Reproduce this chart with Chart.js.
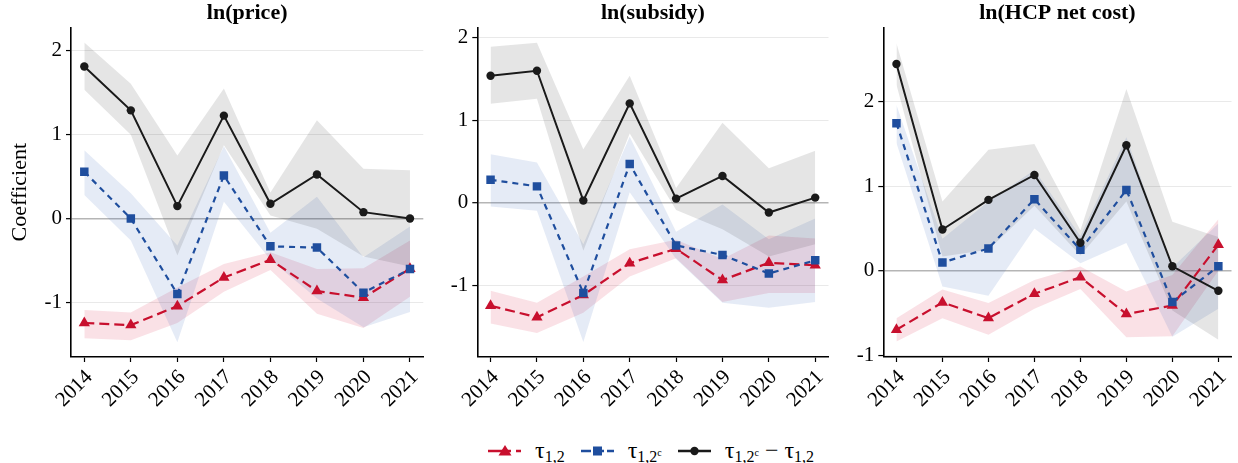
<!DOCTYPE html>
<html>
<head>
<meta charset="utf-8">
<script src="https://cdn.jsdelivr.net/npm/chart.js@4.4.1/dist/chart.umd.min.js"></script>
<style>
  html, body { margin:0; padding:0; background:#fff; }
  body { width:1238px; height:463px; position:relative; overflow:hidden; font-family:'Liberation Serif','Times New Roman',serif; }
  canvas { position:absolute; top:0; }
  #legend { position:absolute; left:488px; top:436px; height:30px; display:flex; align-items:center; font-size:24px; color:#000; white-space:nowrap; }
  #legend svg { display:block; }
  #legend .lab { margin-left:14px; margin-right:16px; }
  #legend sub { font-size:16px; vertical-align:-4px; }
  #legend sup { font-size:10px; vertical-align:6px; }
</style>
</head>
<body>
<canvas id="c1" width="430" height="420" style="left:0px"></canvas>
<canvas id="c2" width="415" height="420" style="left:420px"></canvas>
<canvas id="c3" width="403" height="420" style="left:835px"></canvas>
<div id="legend">
  <svg width="33" height="16"><line x1="0" y1="8" x2="33" y2="8" stroke="#C8102E" stroke-width="2.4" stroke-dasharray="23,5,5"/><polygon points="17,2 23.5,12.5 10.5,12.5" fill="#C8102E"/></svg>
  <span class="lab">τ<sub>1,2</sub></span>
  <svg width="33" height="16"><line x1="0" y1="8" x2="33" y2="8" stroke="#1F4E9E" stroke-width="2.4" stroke-dasharray="10,3"/><rect x="12" y="3.5" width="9" height="9" fill="#1F4E9E"/></svg>
  <span class="lab">τ<sub>1,2<sup>c</sup></sub></span>
  <svg width="33" height="16"><line x1="0" y1="8" x2="33" y2="8" stroke="#1a1a1a" stroke-width="2.4"/><circle cx="16.5" cy="8" r="4.2" fill="#1a1a1a"/></svg>
  <span class="lab">τ<sub>1,2<sup>c</sup></sub> − τ<sub>1,2</sub></span>
</div>
<script>
const years = [2014, 2015, 2016, 2017, 2018, 2019, 2020, 2021];
const panelTitles = ['ln(price)', 'ln(subsidy)', 'ln(HCP net cost)'];
const yTickValues = [-1, 0, 1, 2];

// ln(price)
const priceTau12      = [-1.24, -1.265, -1.04, -0.70, -0.49, -0.86, -0.94, -0.595];
const priceTau12Hi    = [-1.085, -1.115, -0.82, -0.54, -0.40, -0.60, -0.59, -0.26];
const priceTau12Lo    = [-1.42, -1.445, -1.24, -0.87, -0.61, -1.13, -1.30, -0.93];
const priceTau12c     = [0.555, 0.0, -0.895, 0.51, -0.33, -0.345, -0.88, -0.60];
const priceTau12cHi   = [0.81, 0.30, -0.32, 0.86, -0.17, 0.26, -0.46, -0.095];
const priceTau12cLo   = [0.28, -0.26, -1.47, 0.20, -0.49, -0.95, -1.29, -1.11];
const priceDiff       = [1.805, 1.285, 0.148, 1.222, 0.175, 0.524, 0.076, 0.0];
const priceDiffHi     = [2.09, 1.60, 0.75, 1.545, 0.31, 1.167, 0.59, 0.575];
const priceDiffLo     = [1.53, 0.995, -0.44, 0.87, 0.035, -0.12, -0.45, -0.57];

// ln(subsidy)
const subsTau12       = [-1.245, -1.385, -1.115, -0.73, -0.555, -0.935, -0.725, -0.755];
const subsTau12Hi     = [-1.065, -1.21, -0.89, -0.56, -0.445, -0.68, -0.395, -0.43];
const subsTau12Lo     = [-1.46, -1.575, -1.33, -0.89, -0.67, -1.20, -1.09, -1.09];
const subsTau12c      = [0.28, 0.20, -1.09, 0.47, -0.515, -0.63, -0.855, -0.695];
const subsTau12cHi    = [0.59, 0.49, -0.50, 0.80, -0.35, -0.02, -0.44, -0.19];
const subsTau12cLo    = [-0.045, -0.095, -1.685, 0.13, -0.68, -1.21, -1.27, -1.20];
const subsDiff        = [1.54, 1.60, 0.028, 1.205, 0.052, 0.326, -0.117, 0.064];
const subsDiffHi      = [1.89, 1.94, 0.65, 1.54, 0.18, 0.97, 0.42, 0.63];
const subsDiffLo      = [1.20, 1.26, -0.58, 0.84, -0.085, -0.32, -0.65, -0.50];

// ln(HCP net cost)
const hcpTau12        = [-0.697, -0.374, -0.559, -0.272, -0.075, -0.512, -0.41, 0.307];
const hcpTau12Hi      = [-0.56, -0.22, -0.38, -0.11, 0.05, -0.245, -0.05, 0.61];
const hcpTau12Lo      = [-0.835, -0.56, -0.755, -0.45, -0.215, -0.787, -0.775, 0.0];
const hcpTau12c       = [1.744, 0.098, 0.264, 0.846, 0.248, 0.956, -0.37, 0.055];
const hcpTau12cHi     = [1.96, 0.38, 0.82, 1.19, 0.41, 1.58, 0.04, 0.56];
const hcpTau12cLo     = [1.51, -0.185, -0.295, 0.50, 0.09, 0.33, -0.78, -0.45];
const hcpDiff         = [2.444, 0.488, 0.838, 1.133, 0.331, 1.484, 0.053, -0.236];
const hcpDiffHi       = [2.69, 0.82, 1.43, 1.50, 0.48, 2.15, 0.58, 0.40];
const hcpDiffLo       = [2.20, 0.17, 0.25, 0.77, 0.18, 0.82, -0.47, -0.815];

const RED = '#C8102E', BLUE = '#1F4E9E', BLACK = '#1a1a1a';
const FONT = "'Liberation Serif', 'Times New Roman', serif";

const pts = arr => years.map((yr, i) => ({ x: yr, y: arr[i] }));

function band(hi, lo, color) {
  return [
    { data: pts(hi), fill: '+1', backgroundColor: color, borderColor: 'transparent', borderWidth: 0, pointRadius: 0, order: 10 },
    { data: pts(lo), fill: false, backgroundColor: 'transparent', borderColor: 'transparent', borderWidth: 0, pointRadius: 0, order: 10 }
  ];
}

function makePanel(id, title, s, yMin, yMax, yAxisWidth, rightPad, showYTitle) {
  const datasets = [
    ...band(s.diffHi, s.diffLo, 'rgba(0,0,0,0.10)'),
    ...band(s.cHi, s.cLo, 'rgba(40,90,180,0.12)'),
    ...band(s.tHi, s.tLo, 'rgba(215,25,60,0.13)'),
    { data: pts(s.t), borderColor: RED, borderWidth: 2.2, borderDash: [10, 5], pointStyle: 'triangle', pointRadius: 6.5, pointBackgroundColor: RED, pointBorderWidth: 0, fill: false, tension: 0, order: 3 },
    { data: pts(s.c), borderColor: BLUE, borderWidth: 2.2, borderDash: [6, 5], pointStyle: 'rect', pointRadius: 6, pointBackgroundColor: BLUE, pointBorderWidth: 0, fill: false, tension: 0, order: 2 },
    { data: pts(s.d), borderColor: BLACK, borderWidth: 2, pointStyle: 'circle', pointRadius: 4.2, pointBackgroundColor: BLACK, pointBorderWidth: 0, fill: false, tension: 0, order: 1 }
  ];
  return new Chart(document.getElementById(id), {
    type: 'line',
    data: { datasets },
    options: {
      responsive: false, animation: false, devicePixelRatio: 1,
      layout: { padding: { left: 0, right: rightPad, top: 0, bottom: 0 } },
      plugins: {
        legend: { display: false }, tooltip: { enabled: false },
        title: { display: true, text: title, fullSize: false, color: '#000',
                 font: { family: FONT, size: 22, weight: 'bold', lineHeight: 1.2 }, padding: { top: 0, bottom: 1 } }
      },
      scales: {
        x: {
          type: 'linear', min: 2013.714, max: 2021.286,
          ticks: { stepSize: 1, includeBounds: false, autoSkip: false, maxRotation: 45, minRotation: 45,
                   font: { family: FONT, size: 21 }, color: '#000', padding: 3, labelOffset: 5,
                   callback: v => String(v) },
          grid: { drawOnChartArea: false, drawTicks: true, tickLength: 5, tickColor: '#000', tickWidth: 1.2 },
          border: { display: true, color: '#000', width: 1.6 },
          afterFit: sc => { sc.height = 63; sc.paddingLeft = 0; sc.paddingRight = 0; }
        },
        y: {
          min: yMin, max: yMax,
          afterBuildTicks: sc => { sc.ticks = yTickValues.map(v => ({ value: v })); },
          ticks: { font: { family: FONT, size: 21 }, color: '#000', padding: 4,
                   callback: v => String(v) },
          grid: { color: c => (c.tick && c.tick.value === 0) ? '#b5b5b5' : '#e9e9e9',
                  lineWidth: c => (c.tick && c.tick.value === 0) ? 1.4 : 1.1,
                  tickLength: 5, tickColor: '#000', tickWidth: 1.2 },
          border: { display: true, color: '#000', width: 1.6 },
          title: { display: showYTitle, text: 'Coefficient', color: '#000',
                   font: { family: FONT, size: 22, lineHeight: 1.2 }, padding: { top: 7, bottom: 0 } },
          afterFit: sc => { sc.width = yAxisWidth; sc.paddingTop = 0; sc.paddingBottom = 0; }
        }
      }
    }
  });
}

makePanel('c1', panelTitles[0], {
  t: priceTau12, tHi: priceTau12Hi, tLo: priceTau12Lo,
  c: priceTau12c, cHi: priceTau12cHi, cLo: priceTau12cLo,
  d: priceDiff, diffHi: priceDiffHi, diffLo: priceDiffLo
}, -1.644, 2.27, 71, 6.7, true);

makePanel('c2', panelTitles[1], {
  t: subsTau12, tHi: subsTau12Hi, tLo: subsTau12Lo,
  c: subsTau12c, cHi: subsTau12cHi, cLo: subsTau12cLo,
  d: subsDiff, diffHi: subsDiffHi, diffLo: subsDiffLo
}, -1.866, 2.125, 57.3, 6, false);

makePanel('c3', panelTitles[2], {
  t: hcpTau12, tHi: hcpTau12Hi, tLo: hcpTau12Lo,
  c: hcpTau12c, cHi: hcpTau12cHi, cLo: hcpTau12cLo,
  d: hcpDiff, diffHi: hcpDiffHi, diffLo: hcpDiffLo
}, -1.019, 2.877, 48.3, 3, false);
</script>
</body>
</html>
